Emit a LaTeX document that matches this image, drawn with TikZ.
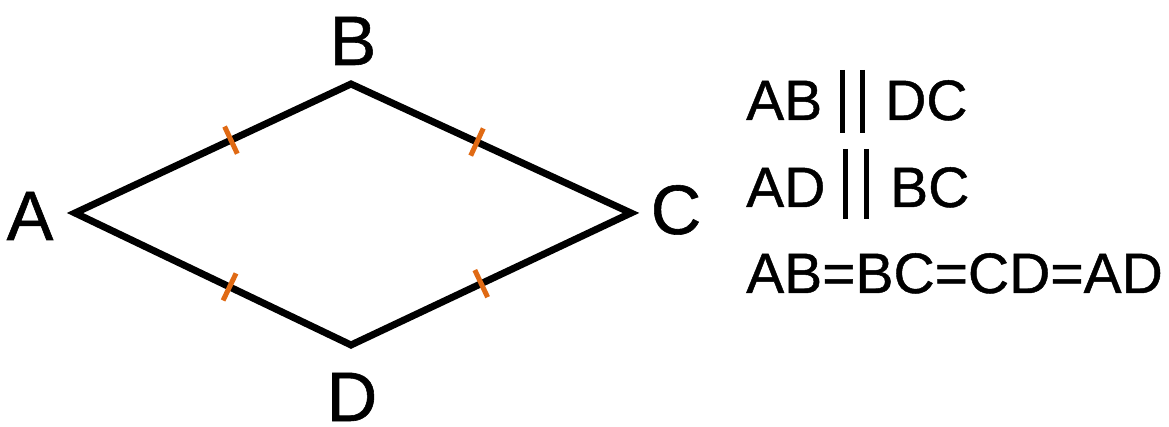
\documentclass[tikz,border=0pt]{standalone}
\usepackage{fontspec}
\setmainfont[FakeBold=0.8]{Liberation Sans}
\usetikzlibrary{calc}
\definecolor{tickorange}{RGB}{224,106,20}
\begin{document}
\begin{tikzpicture}[x=1pt,y=-1pt,
  edge/.style={line width=7pt,line join=miter,miter limit=20},
  tickmark/.style={draw=tickorange,line width=5pt},
  lbl/.style={inner sep=0pt,anchor=base,font=\fontsize{70}{80}\selectfont},
  txt/.style={inner sep=0pt,anchor=base west,font=\fontsize{57}{64}\selectfont},
  parbar/.style={line width=5pt}]
\useasboundingbox (0,0) rectangle (1169,427);
\coordinate (A) at (75,213);
\coordinate (B) at (351,84);
\coordinate (C) at (631,213);
\coordinate (D) at (351,345);
\draw[edge] (A) -- (B) -- (C) -- (D) -- cycle;
% tick marks
\foreach \p/\q/\t in {A/B/0.565, B/C/0.45, A/D/0.56, D/C/0.465}{
  \path (\p) -- (\q) coordinate[pos=\t] (m);
  \draw[tickmark] ($(m)!15pt!90:(\q)$) -- ($(m)!-15pt!90:(\q)$);
}
\node[lbl] (la) at (30,240) {A};
\node[lbl] (lb) at (353,65) {B};
\node[lbl] (lc) at (676,234) {C};
\node[lbl] (ld) at (352,421) {D};
% relations
\node[txt] (t1a) at (746,120) {AB};
\node[txt] (t1b) at (885,120) {DC};
\coordinate (p1a) at (842,70); \coordinate (p1b) at (842,133);
\coordinate (p1c) at (862,70); \coordinate (p1d) at (862,133);
\draw[parbar] (p1a) -- (p1b);
\draw[parbar] (p1c) -- (p1d);
\node[txt] (t2a) at (746,207) {AD};
\node[txt] (t2b) at (890,207) {BC};
\coordinate (p2a) at (845,149); \coordinate (p2b) at (845,219);
\coordinate (p2c) at (866,149); \coordinate (p2d) at (866,219);
\draw[parbar] (p2a) -- (p2b);
\draw[parbar] (p2c) -- (p2d);
\node[txt] (t3) at (746,293) {AB=BC=CD=AD};
\end{tikzpicture}
\end{document}
